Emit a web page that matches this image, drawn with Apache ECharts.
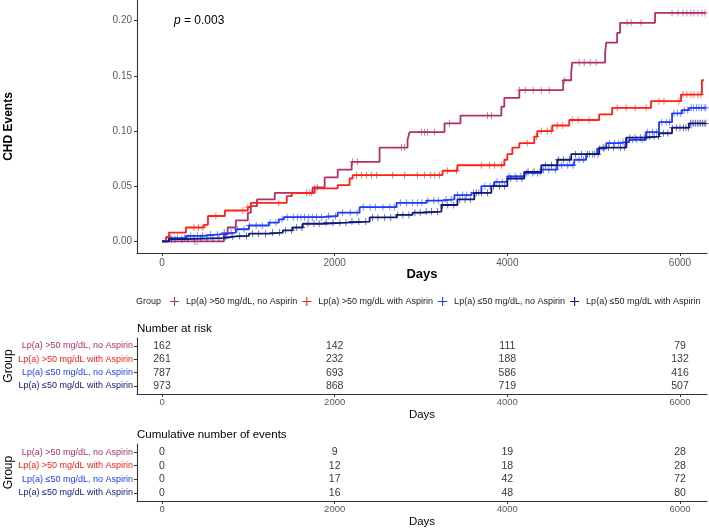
<!DOCTYPE html>
<html>
<head>
<meta charset="utf-8">
<script src="https://cdn.jsdelivr.net/npm/echarts@6/dist/echarts.min.js"></script>
<style>
  html, body { margin: 0; padding: 0; background: #fff; }
  #chart { width: 709px; height: 528px; }
</style>
</head>
<body>
<div id="chart"></div>
<script>
// groups, in legend / table order
const groupNames = [
  'Lp(a) >50 mg/dL, no Aspirin',
  'Lp(a) >50 mg/dL with Aspirin',
  'Lp(a) ≤50 mg/dL, no Aspirin',
  'Lp(a) ≤50 mg/dL with Aspirin'
];
const groupColors = ['#b0306a', '#ff2215', '#1e3cff', '#10197a'];

const xTicks = [0, 2000, 4000, 6000];
const yTicks = [0, 0.05, 0.1, 0.15, 0.2];

// cumulative incidence steps [day, value]
const stepsHighNoAsp = [[0,0],[717,0.0063],[760,0.0126],[855,0.019],[994,0.026],[1029,0.032],[1100,0.038],[1306,0.044],[1746,0.049],[1884,0.058],[2035,0.065],[2197,0.072],[2520,0.085],[2844,0.092],[2867,0.099],[3272,0.107],[3457,0.114],[3931,0.122],[3965,0.130],[4139,0.137],[4647,0.146],[4740,0.153],[4751,0.162],[5133,0.171],[5145,0.180],[5272,0.189],[5306,0.198],[5711,0.207],[6300,0.207]];
const stepsHighAsp = [[0,0],[46,0.004],[81,0.008],[277,0.0126],[486,0.015],[532,0.023],[728,0.028],[994,0.031],[1029,0.035],[1445,0.041],[1503,0.044],[1769,0.048],[2035,0.051],[2173,0.057],[2208,0.060],[3249,0.064],[3422,0.069],[3965,0.074],[4000,0.079],[4058,0.085],[4139,0.089],[4312,0.095],[4347,0.100],[4520,0.105],[4717,0.110],[5064,0.115],[5214,0.121],[5665,0.127],[6012,0.133],[6254,0.146],[6277,0.146]];
const stepsLowNoAsp = [[0,0],[81,0.003],[277,0.005],[474,0.0063],[659,0.008],[855,0.011],[1006,0.0144],[1237,0.017],[1353,0.020],[1410,0.022],[1861,0.023],[2035,0.026],[2289,0.031],[2717,0.035],[3064,0.037],[3237,0.038],[3387,0.042],[3584,0.044],[3699,0.050],[3850,0.054],[4000,0.059],[4197,0.062],[4393,0.065],[4578,0.069],[4775,0.074],[4913,0.079],[5040,0.084],[5145,0.089],[5295,0.090],[5410,0.092],[5607,0.099],[5757,0.108],[5908,0.116],[6023,0.119],[6104,0.121],[6300,0.121]];
const stepsLowAsp = [[0,0],[81,0.002],[277,0.003],[717,0.0045],[855,0.005],[1006,0.007],[1237,0.008],[1399,0.010],[1514,0.0126],[1630,0.016],[1861,0.017],[2139,0.018],[2405,0.0217],[2717,0.024],[2902,0.026],[3040,0.027],[3237,0.033],[3422,0.038],[3618,0.044],[3815,0.050],[4000,0.057],[4197,0.063],[4393,0.069],[4578,0.074],[4740,0.079],[5064,0.085],[5376,0.094],[5607,0.095],[5757,0.098],[5908,0.103],[6104,0.107],[6300,0.107]];

// censoring times (days)
const censorHighNoAsp = [380,405,1676,1734,1803,2208,2266,2775,2810,3006,3040,3075,3156,3330,3769,3815,4139,4208,4300,4393,4485,4659,4832,4890,4960,5029,5387,5434,5549,5908,5977,6035,6080,6127,6162,6208,6254,6289];
const censorHighAsp = [370,420,474,624,936,994,1353,1711,1769,2254,2312,2370,2428,2485,2670,2809,2960,3040,3110,3156,3214,3306,3410,3699,3792,3850,3931,4231,4335,4393,4462,4508,4578,4636,4751,4820,4948,5272,5376,5480,5607,5757,5815,5988,6035,6080,6127,6162,6208,6243];
const censorLowNoAsp = [95,180,260,330,410,470,560,640,720,800,870,950,1010,1090,1160,1250,1320,1390,1450,1520,1570,1610,1650,1700,1740,1790,1850,1930,2010,2090,2180,2260,2330,2410,2470,2560,2640,2690,2760,2830,2900,2960,3010,3080,3150,3200,3290,3350,3420,3480,3530,3610,3670,3740,3800,3880,3940,4020,4090,4150,4220,4290,4350,4420,4480,4560,4630,4700,4760,4830,4880,4950,5010,5070,5120,5180,5240,5290,5340,5390,5450,5500,5560,5620,5680,5730,5790,5840,5880,5930,5970,6010,6050,6090,6130,6160,6190,6220,6250,6280,6300];
const censorLowAsp = [110,150,230,300,370,450,520,590,660,740,820,900,980,1050,1120,1200,1280,1360,1430,1500,1560,1620,1690,1760,1820,1900,1980,2060,2130,2200,2280,2360,2440,2500,2580,2650,2730,2790,2860,2930,2990,3060,3120,3190,3250,3310,3380,3450,3510,3570,3640,3700,3770,3840,3910,3970,4040,4110,4170,4240,4310,4380,4440,4510,4590,4650,4720,4790,4860,4930,4990,5050,5110,5170,5230,5310,5360,5420,5480,5540,5590,5650,5700,5750,5810,5860,5910,5960,6000,6040,6070,6100,6120,6140,6160,6180,6200,6220,6240,6260,6280,6300];

// risk tables
const tableDays = [0, 2000, 4000, 6000];
const atRisk = [[162,142,111,79],[261,232,188,132],[787,693,586,416],[973,868,719,507]];
const cumEvents = [[0,9,19,28],[0,12,18,28],[0,17,42,72],[0,16,48,80]];

const allSteps = [stepsHighNoAsp, stepsHighAsp, stepsLowNoAsp, stepsLowAsp];
const allCensor = [censorHighNoAsp, censorHighAsp, censorLowNoAsp, censorLowAsp];

const FONT = 'Liberation Sans, Arial, sans-serif';
// thin plus: censor mark and legend key
const PLUS = 'path://M4.4,0H5.6V4.4H10V5.6H5.6V10H4.4V5.6H0V4.4H4.4Z';
const X_MIN = -290, X_MAX = 6313;

function stepAt(steps, d) {
  let v = 0;
  for (const [x, y] of steps) {
    if (x <= d) v = y; else break;
  }
  return v;
}

function daysAxis(gridIndex, labelSize, nameSize, bold, nameGap, margin) {
  return {
    type: 'value', gridIndex: gridIndex, min: X_MIN, max: X_MAX,
    axisLine: { show: true, onZero: false, lineStyle: { color: '#333', width: 1.1 } },
    axisTick: { show: true, customValues: xTicks, length: 3, lineStyle: { color: '#333' } },
    axisLabel: { customValues: xTicks, formatter: v => String(v), color: '#5a5a5a', fontSize: labelSize, fontFamily: FONT, margin: margin },
    splitLine: { show: false },
    name: 'Days', nameLocation: 'middle', nameGap: nameGap, nameMoveOverlap: false,
    nameTextStyle: { fontSize: nameSize, fontWeight: bold ? 'bold' : 'normal', color: '#000', fontFamily: FONT }
  };
}

const rich = {};
groupNames.forEach((n, i) => { rich['g' + i] = { color: groupColors[i], fontSize: 9, fontFamily: FONT }; });

function groupAxis(gridIndex) {
  return {
    type: 'value', gridIndex: gridIndex, min: 0.4, max: 4.6, inverse: true,
    axisLine: { show: true, onZero: false, lineStyle: { color: '#333', width: 1.1 } },
    axisTick: { show: true, customValues: [1, 2, 3, 4], length: 3, lineStyle: { color: '#333' } },
    axisLabel: {
      customValues: [1, 2, 3, 4], margin: 4,
      formatter: v => '{g' + (v - 1) + '|' + groupNames[v - 1] + '}', rich: rich
    },
    splitLine: { show: false },
    name: 'Group', nameLocation: 'middle', nameGap: 122, nameMoveOverlap: false,
    nameTextStyle: { fontSize: 12, color: '#000', fontFamily: FONT }
  };
}

function tableSeries(values, gridIndex) {
  const data = [];
  values.forEach((row, g) => row.forEach((v, j) => data.push([tableDays[j], g + 1, v])));
  return {
    type: 'scatter', xAxisIndex: gridIndex, yAxisIndex: gridIndex,
    symbolSize: 1, itemStyle: { color: 'rgba(0,0,0,0)' }, silent: true,
    label: { show: true, position: 'inside', formatter: p => p.value[2], fontSize: 10.5, color: '#000', fontFamily: FONT },
    data: data
  };
}

const series = [];
allSteps.forEach((steps, i) => {
  series.push({
    name: groupNames[i], type: 'line', step: 'end', showSymbol: false,
    xAxisIndex: 0, yAxisIndex: 0, color: groupColors[i],
    lineStyle: { width: 1.8, color: groupColors[i] },
    data: steps, z: 2 + i
  });
});
allCensor.forEach((days, i) => {
  series.push({
    name: 'censor' + i, type: 'scatter', symbol: PLUS, symbolSize: [6, 7],
    xAxisIndex: 0, yAxisIndex: 0, itemStyle: { color: groupColors[i] }, silent: true,
    data: days.map(d => [d, stepAt(allSteps[i], d)]), z: 2 + i
  });
});
series.push(tableSeries(atRisk, 1));
series.push(tableSeries(cumEvents, 2));

const option = {
  animation: false,
  textStyle: { fontFamily: FONT },
  grid: [
    { left: 137, top: 0, width: 570, height: 253, outerBoundsMode: 'none' },
    { left: 137, top: 338, width: 570, height: 56, outerBoundsMode: 'none' },
    { left: 137, top: 444, width: 570, height: 57, outerBoundsMode: 'none' }
  ],
  legend: {
    data: groupNames.map((n, i) => ({ name: n, icon: PLUS, itemStyle: { color: groupColors[i] } })),
    left: 165, top: 292, itemWidth: 13, itemHeight: 9, itemGap: 5,
    textStyle: { fontSize: 9, color: '#222', fontFamily: FONT }
  },
  xAxis: [
    daysAxis(0, 10, 13, true, 15, 5),
    daysAxis(1, 9.5, 11.5, false, 15, 3),
    daysAxis(2, 9.5, 11.5, false, 15, 3)
  ],
  yAxis: [
    {
      type: 'value', gridIndex: 0, min: -0.0105, max: 0.2187,
      axisLine: { show: true, onZero: false, lineStyle: { color: '#333', width: 1.1 } },
      axisTick: { show: true, customValues: yTicks, length: 3, lineStyle: { color: '#333' } },
      axisLabel: { customValues: yTicks, formatter: v => v.toFixed(2), color: '#5a5a5a', fontSize: 10, margin: 5, fontFamily: FONT },
      splitLine: { show: false },
      name: 'CHD Events', nameLocation: 'middle', nameGap: 122, nameMoveOverlap: false,
      nameTextStyle: { fontSize: 12, fontWeight: 'bold', color: '#000', fontFamily: FONT }
    },
    groupAxis(1),
    groupAxis(2)
  ],
  graphic: [
    { type: 'text', left: 174, top: 15, style: { text: '{i|p} = 0.003', fontSize: 12, fill: '#000', fontFamily: FONT, rich: { i: { fontStyle: 'italic', fontSize: 12, fontFamily: FONT } } } },
    { type: 'text', left: 136, top: 297, style: { text: 'Group', fontSize: 9, fill: '#222', fontFamily: FONT } },
    { type: 'text', left: 137, top: 323, style: { text: 'Number at risk', fontSize: 11.5, fill: '#000', fontFamily: FONT } },
    { type: 'text', left: 137, top: 429, style: { text: 'Cumulative number of events', fontSize: 11.5, fill: '#000', fontFamily: FONT } }
  ],
  series: series
};

const chart = echarts.init(document.getElementById('chart'));
chart.setOption(option);
</script>
</body>
</html>
